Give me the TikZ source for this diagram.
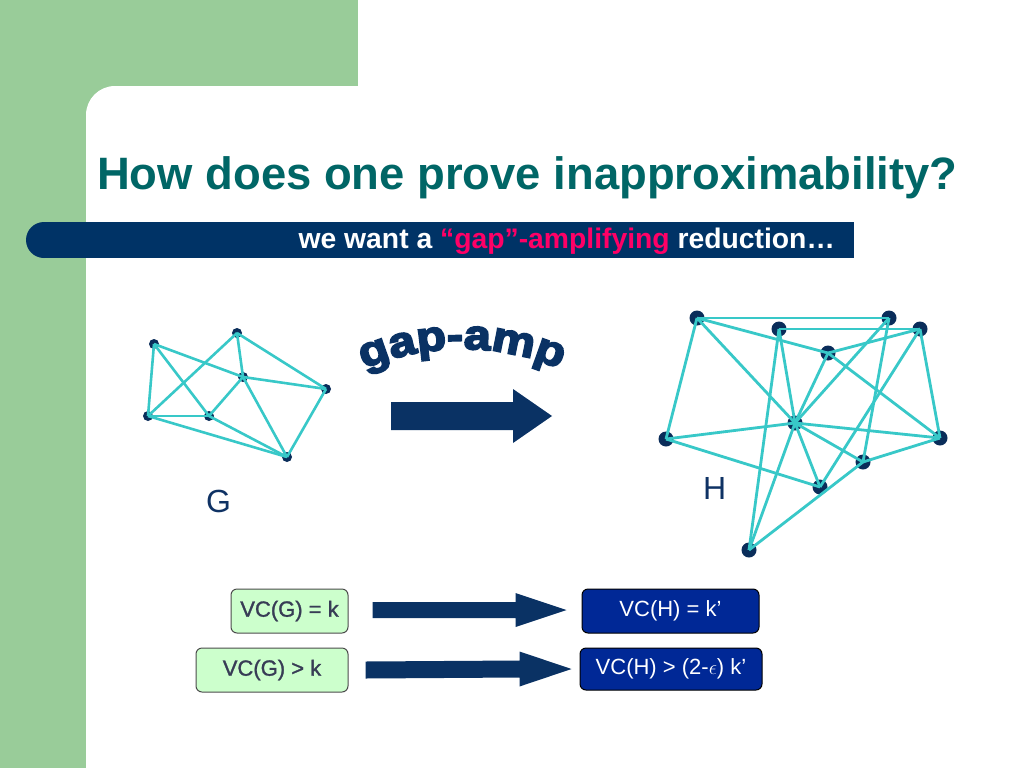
\documentclass[tikz,border=0pt]{standalone}
\usepackage{fontspec}
\setmainfont{Liberation Sans}
\newfontfamily\wordart[FakeBold=4.5,FakeStretch=1.15]{Liberation Sans Bold}
\newfontfamily\shadowfont[FakeBold=1.3]{Liberation Sans}
\usetikzlibrary{calc,decorations.text}
\definecolor{bggreen}{RGB}{153,204,153}
\definecolor{barnavy}{RGB}{0,51,102}
\definecolor{titleteal}{RGB}{0,102,102}
\definecolor{hotpink}{RGB}{255,0,102}
\definecolor{edgecyan}{RGB}{56,200,200}
\definecolor{dotnavy}{RGB}{10,45,90}
\definecolor{arrownavy}{RGB}{10,50,100}
\definecolor{boxgreen}{RGB}{204,255,204}
\definecolor{boxblue}{RGB}{0,40,150}
\definecolor{labelnavy}{RGB}{15,50,100}
\definecolor{gboxtext}{RGB}{55,60,85}
\newcommand\blockarr[5]{% start, end, shaft half, head half, head length
  \fill[arrownavy] ($(#1)+(0,-#3)$) -- ($(#2)+(-#5,-#3)$) -- ($(#2)+(-#5,-#4)$) -- (#2)
    -- ($(#2)+(-#5,#4)$) -- ($(#2)+(-#5,#3)$) -- ($(#1)+(0,#3)$) -- cycle;}
\begin{document}
\begin{tikzpicture}[x=1pt,y=-1pt,
  gv/.style={circle, fill=dotnavy, inner sep=0pt, minimum size=10pt},
  hv/.style={circle, fill=dotnavy, inner sep=0pt, minimum size=15pt},
  gedge/.style={draw=edgecyan, line width=2.6pt},
  hedge/.style={draw=edgecyan, line width=2.8pt},
  gbox/.style={draw=black!70, fill=boxgreen, rounded corners=6pt, line width=1pt,
    text=gboxtext, font=\shadowfont\fontsize{22}{22}\selectfont, inner sep=0pt},
  bbox/.style={draw=black, fill=boxblue, rounded corners=6pt, line width=1pt,
    text=white, font=\fontsize{22}{22}\selectfont, inner sep=0pt},
  lbl/.style={anchor=base west, inner sep=0pt, text=labelnavy, font=\fontsize{32}{32}\selectfont}]
\useasboundingbox (0,0) rectangle (1024,768);
% background
\fill[white] (0,0) rectangle (1024,768);
\fill[bggreen] (0,0) rectangle (358,86);
\fill[bggreen] (0,0) rectangle (86,768);
\fill[bggreen] (86,86) rectangle (130,130);
\fill[white, rounded corners=29pt] (86,86) rectangle (1100,900);
% title
\node[anchor=base west, inner sep=0pt, text=titleteal, font=\fontsize{45.4}{50}\selectfont\bfseries] (title) at (97,189) {How does one prove inapproximability?};
% subtitle bar
\fill[barnavy] (44,240) circle[radius=18];
\fill[barnavy] (44,222) rectangle (854,258);
\node[anchor=base east, inner sep=0pt, text=white, font=\fontsize{28.3}{30}\selectfont\bfseries] (sub) at (835,248) {we want a \textcolor{hotpink}{“gap”-amplifying} reduction…};
% graph G
\node[gv] (g1) at (154,344) {};
\node[gv] (g2) at (237,333) {};
\node[gv] (g3) at (243,377) {};
\node[gv] (g4) at (326,389) {};
\node[gv] (g5) at (148,416) {};
\node[gv] (g6) at (209,416) {};
\node[gv] (g7) at (287,457) {};
\foreach \a/\b in {g1/g3,g1/g6,g1/g5,g2/g5,g2/g3,g2/g4,g3/g4,g3/g6,g3/g7,g5/g6,g5/g7,g6/g7,g4/g7}
  \draw[gedge] (\a.center) -- (\b.center);
\node[lbl] (lg) at (206,512) {G};
% graph H
\node[hv] (h1) at (697,318) {};
\node[hv] (h2) at (779,329) {};
\node[hv] (h3) at (889,318) {};
\node[hv] (h4) at (920,329) {};
\node[hv] (h5) at (828,353) {};
\node[hv] (h6) at (795,423) {};
\node[hv] (h7) at (666,439) {};
\node[hv] (h8) at (940,438) {};
\node[hv] (h9) at (863,462) {};
\node[hv] (h10) at (820,487) {};
\node[hv] (h11) at (749,550) {};
\foreach \a/\b in {h1/h3,h2/h4,h1/h5,h1/h6,h1/h7,h2/h6,h2/h11,h3/h6,h3/h9,h4/h5,h4/h8,h4/h10,h5/h6,h5/h8,h6/h7,h6/h8,h6/h9,h6/h10,h6/h11,h7/h10,h8/h9,h9/h11}
  \draw[hedge] (\a.center) -- (\b.center);
\node[lbl] (lh) at (703,499) {H};
% gap-amp
\begin{scope}[x=1pt,y=1pt]
\path[decorate, decoration={text along path, text align=center,
  text={|\wordart\fontsize{42}{42}\selectfont\color{arrownavy}|gap-amp}}]
  (462,-599) ++(118:250) arc[start angle=118, end angle=62, radius=250];
\end{scope}
\coordinate (bigS) at (391,416);
\coordinate (bigE) at (552,416);
\blockarr{bigS}{bigE}{14}{27}{39}
% bottom boxes
\node[gbox, minimum width=117pt, minimum height=44pt] (vg1) at (289.5,611) {VC(G) = k};
\node[gbox, minimum width=152pt, minimum height=44pt] (vg2) at (272,670) {VC(G) > k};
\node[bbox, minimum width=177pt, minimum height=44pt] (vh1) at (670.5,611) {VC(H) = k’};
\node[bbox, minimum width=182pt, minimum height=42pt] (vh2) at (671,669) {VC(H) > (2-$\epsilon$) k’};
\coordinate (a1s) at ($(vg1.east)+(24,-1)$);
\coordinate (a1e) at ($(vh1.west)+(-15,-1)$);
\coordinate (a2s) at ($(vg2.east)+(17,0)$);
\coordinate (a2e) at ($(vh2.west)+(-8,0)$);
\blockarr{a1s}{a1e}{8}{17}{51}
\blockarr{a2s}{a2e}{8.5}{17.5}{52}
\end{tikzpicture}
\end{document}
